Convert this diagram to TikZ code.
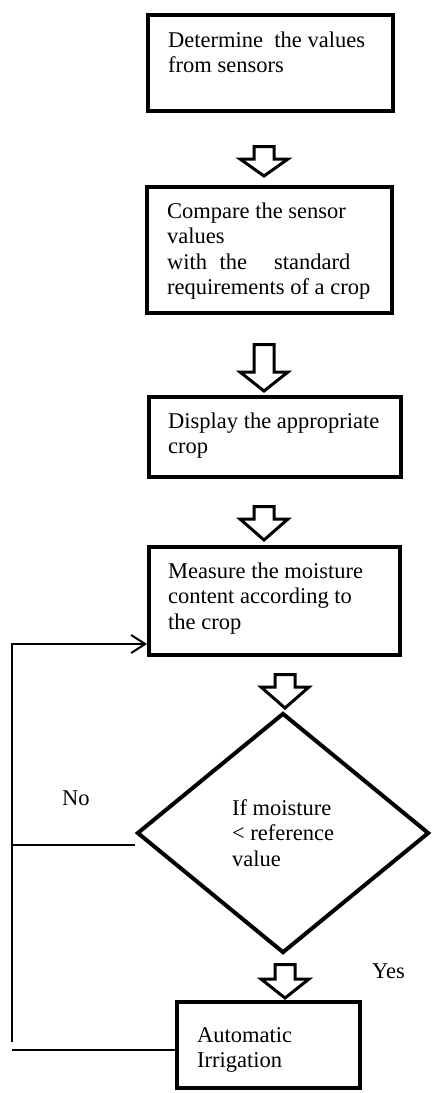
\documentclass[tikz,border=0pt]{standalone}
\usepackage{fontspec}
\setmainfont{Liberation Serif}
\usetikzlibrary{shapes.geometric,arrows.meta}

% hollow block arrow pointing down: tip, shaft length, head length
\newcommand{\hollowarrow}[3]{%
  \draw[arrowline] (#1) -- ++(-24,-#3) -- ++(14,0) -- ++(0,-#2)
    -- ++(20,0) -- ++(0,#2) -- ++(14,0) -- cycle;}

\begin{document}
\begin{tikzpicture}[x=1pt,y=-1pt,
    font=\fontsize{22.5}{25.5}\selectfont,
    stepbox/.style={draw,line width=4pt,inner sep=0pt},
    steptext/.style={anchor=north west,align=left,inner sep=0pt},
    decision/.style={diamond,draw,line width=4pt,inner sep=0pt,align=left},
    arrowline/.style={line width=3pt,miter limit=20},
    loopline/.style={line width=2pt}]

  \useasboundingbox (0,0) rectangle (432,1093);

  % the steps
  \node[stepbox,minimum width=245pt,minimum height=96pt]  (sensors) at (270.5,63)   {};
  \node[stepbox,minimum width=245pt,minimum height=126pt] (compare) at (269.5,250)  {};
  \node[stepbox,minimum width=252pt,minimum height=80pt]  (display) at (275,437)    {};
  \node[stepbox,minimum width=251pt,minimum height=108pt] (measure) at (274.5,601)  {};
  \node[decision,minimum width=292pt,minimum height=240pt] (check) at (283,833)
    {If moisture\\< reference\\value};
  \node[stepbox,minimum width=183pt,minimum height=86pt]  (irrig)   at (268.5,1045) {};

  % texts sit in the top left corner of each box
  \node[steptext] (sensors text) at ([xshift=22pt,yshift=-16pt]sensors.north west)
    {\strut Determine\ \ the values\\from sensors};
  \node[steptext] (compare text) at ([xshift=22pt,yshift=-15pt]compare.north west)
    {\strut Compare the sensor\\values\\with\hspace{0.55em}the\hspace{1.2em}standard\\requirements of a crop};
  \node[steptext] (display text) at ([xshift=21pt,yshift=-15pt]display.north west)
    {\strut Display the appropriate\\crop};
  \node[steptext] (measure text) at ([xshift=21pt,yshift=-15pt]measure.north west)
    {\strut Measure the moisture\\content according to\\the crop};
  \node[steptext] (irrig text) at ([xshift=22pt,yshift=-24pt]irrig.north west)
    {\strut Automatic\\Irrigation};

  % block arrows between the steps
  \hollowarrow{[xshift=-5.5pt,yshift=9pt]compare.north}{12.5}{17}
  \hollowarrow{[xshift=-11pt,yshift=4pt]display.north}{27.5}{19}
  \hollowarrow{[xshift=-10.5pt,yshift=5pt]measure.north}{12.5}{21}
  \hollowarrow{[xshift=2pt,yshift=3pt]check.north}{12.5}{21}
  \hollowarrow{[xshift=16.5pt,yshift=2pt]irrig.north}{14.5}{19}

  % loop back when the soil is dry enough
  \coordinate (loop bottom) at (12,1042);
  \draw[loopline,-{Straight Barb[length=14pt,width=18pt]}] (loop bottom) |- ([yshift=-43pt]measure.west);
  \draw[loopline] ([yshift=-12pt]check.west) -- ([yshift=-12pt]check.west -| loop bottom);
  \draw[loopline] ([yshift=-5pt]irrig.west) -- ([yshift=-5pt]irrig.west -| loop bottom);

  \node[anchor=base west,inner sep=0pt] (no)  at (62,805)  {No};
  \node[anchor=base west,inner sep=0pt] (yes) at (372,978) {Yes};
\end{tikzpicture}
\end{document}
